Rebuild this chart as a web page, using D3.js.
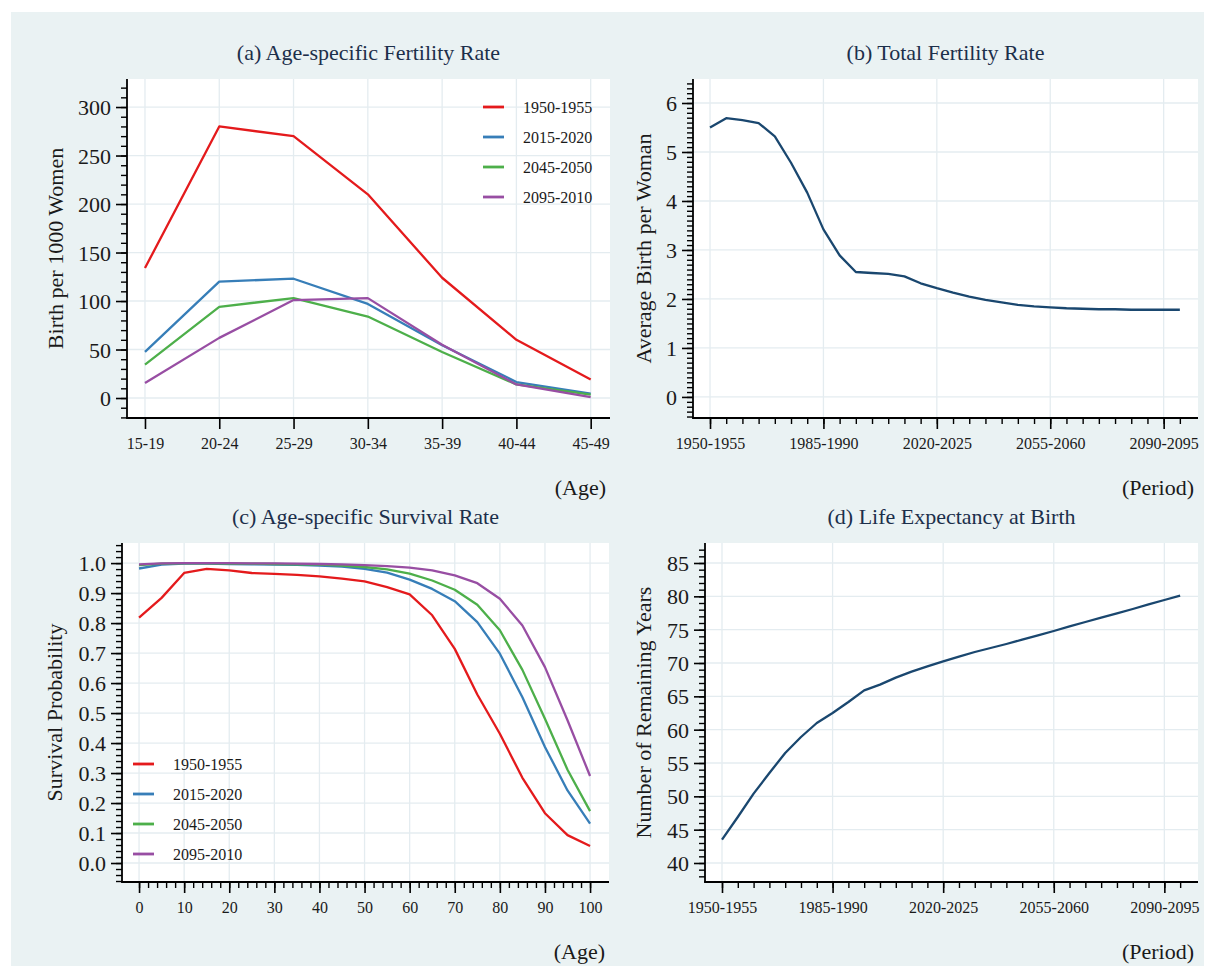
<!DOCTYPE html>
<html><head><meta charset="utf-8">
<script src="https://cdn.jsdelivr.net/npm/d3@7/dist/d3.min.js"></script>
<style>
html,body{margin:0;padding:0;background:#fff;}
svg text{font-family:"Liberation Serif","Times New Roman",serif;}
</style></head>
<body>
<svg id="chart" width="1214" height="974"></svg>
<script>
// ---------------- DATA ----------------
const ageGroups = ["15-19","20-24","25-29","30-34","35-39","40-44","45-49"];
const seriesNames = ["1950-1955","2015-2020","2045-2050","2095-2010"];
const seriesColors = ["#e41a1c","#377eb8","#4daf4a","#984ea3"];

const asfr1950 = [134, 280, 270, 210, 124, 60, 19];
const asfr2015 = [47.5, 120, 123, 97, 54.5, 16.5, 4.5];
const asfr2045 = [34.5, 94, 103, 84, 47.5, 14, 3.5];
const asfr2095 = [15.5, 62, 101, 103, 55, 14, 1];

const periods = ["1950-1955","1955-1960","1960-1965","1965-1970","1970-1975","1975-1980",
  "1980-1985","1985-1990","1990-1995","1995-2000","2000-2005","2005-2010","2010-2015",
  "2015-2020","2020-2025","2025-2030","2030-2035","2035-2040","2040-2045","2045-2050",
  "2050-2055","2055-2060","2060-2065","2065-2070","2070-2075","2075-2080","2080-2085",
  "2085-2090","2090-2095","2095-2100"];
const periodTickLabels = ["1950-1955","1985-1990","2020-2025","2055-2060","2090-2095"];

const tfr = [5.50,5.69,5.65,5.59,5.32,4.78,4.17,3.42,2.89,2.55,2.53,2.51,2.46,2.32,2.22,
  2.13,2.05,1.98,1.93,1.88,1.85,1.83,1.81,1.80,1.79,1.79,1.78,1.78,1.78,1.78];

const lifeExp = [43.5,46.9,50.4,53.5,56.5,58.9,61.0,62.5,64.15,65.9,66.75,67.8,68.7,69.5,
  70.25,70.95,71.65,72.25,72.85,73.5,74.15,74.8,75.5,76.15,76.8,77.45,78.1,78.8,79.45,80.1];

const survAges = [0,5,10,15,20,25,30,35,40,45,50,55,60,65,70,75,80,85,90,95,100];
const surv1950 = [0.818,0.884,0.967,0.981,0.976,0.967,0.964,0.961,0.956,0.948,0.939,0.920,
  0.896,0.826,0.714,0.562,0.431,0.284,0.166,0.093,0.057];
const surv2015 = [0.982,0.995,0.998,0.998,0.997,0.996,0.995,0.994,0.992,0.988,0.981,0.968,
  0.945,0.914,0.873,0.803,0.698,0.553,0.387,0.242,0.131];
const surv2045 = [0.993,0.998,0.999,0.999,0.998,0.998,0.997,0.996,0.995,0.992,0.987,0.979,
  0.965,0.942,0.911,0.861,0.776,0.644,0.481,0.311,0.173];
const surv2095 = [0.996,0.999,1.000,1.000,1.000,0.999,0.999,0.998,0.997,0.996,0.993,0.990,
  0.985,0.976,0.959,0.933,0.881,0.792,0.653,0.476,0.290];

// ---------------- DRAW ----------------
const svg = d3.select("#chart");
const GRID = "#e4ecf0", TITLE = "#1c2f4b", TXT = "#1a1a1a", NAVY = "#1a476f";

svg.append("rect").attr("x",0).attr("y",0).attr("width",1214).attr("height",974).attr("fill","#fff");
svg.append("rect").attr("x",11).attr("y",12).attr("width",1193).attr("height",954).attr("fill","#eaf2f3");

function panel(cfg){
  const g = svg.append("g");
  const x = d3.scaleLinear().domain(cfg.xdom).range([cfg.left, cfg.right]);
  const y = d3.scaleLinear().domain(cfg.ydom).range([cfg.bottom, cfg.top]);
  g.append("rect").attr("x",cfg.left).attr("y",cfg.top)
    .attr("width",cfg.right-cfg.left).attr("height",cfg.bottom-cfg.top).attr("fill","#fff");
  // grid
  g.selectAll(".gx").data(cfg.xMajor).join("line")
    .attr("x1",d=>x(d)).attr("x2",d=>x(d)).attr("y1",cfg.top).attr("y2",cfg.bottom)
    .attr("stroke",GRID).attr("stroke-width",1.3);
  g.selectAll(".gy").data(cfg.yMajor).join("line")
    .attr("y1",d=>y(d)).attr("y2",d=>y(d)).attr("x1",cfg.left).attr("x2",cfg.right)
    .attr("stroke",GRID).attr("stroke-width",1.3);
  // minor ticks
  const yAxisMinor = d3.axisLeft(y).tickValues(cfg.yMinor).tickSize(6).tickFormat("");
  const xAxisMinor = d3.axisBottom(x).tickValues(cfg.xMinor).tickSize(6).tickFormat("");
  const ym = g.append("g").attr("transform",`translate(${cfg.left},0)`).call(yAxisMinor);
  const xm = g.append("g").attr("transform",`translate(0,${cfg.bottom})`).call(xAxisMinor);
  [ym,xm].forEach(a=>{a.select(".domain").remove(); a.selectAll("line").attr("stroke","#000").attr("stroke-width",1.4);});
  // major axes
  const yAxis = d3.axisLeft(y).tickValues(cfg.yMajor).tickSize(11).tickPadding(5).tickFormat(cfg.yFmt);
  const xAxis = d3.axisBottom(x).tickValues(cfg.xMajor).tickSize(11).tickPadding(8).tickFormat(cfg.xFmt);
  const ya = g.append("g").attr("transform",`translate(${cfg.left},0)`).call(yAxis);
  const xa = g.append("g").attr("transform",`translate(0,${cfg.bottom})`).call(xAxis);
  [ya,xa].forEach(a=>{
    a.select(".domain").remove();
    a.selectAll("line").attr("stroke","#000").attr("stroke-width",1.6);
    a.selectAll("text").attr("fill",TXT);
  });
  ya.selectAll("text").attr("font-size",22).attr("dy","0.34em");
  xa.selectAll("text").attr("font-size",16).attr("dy","0.72em");
  // axis lines
  g.append("line").attr("x1",cfg.left).attr("x2",cfg.left).attr("y1",cfg.top).attr("y2",cfg.bottom+0.8)
    .attr("stroke","#000").attr("stroke-width",1.8);
  g.append("line").attr("x1",cfg.left-0.8).attr("x2",cfg.right).attr("y1",cfg.bottom).attr("y2",cfg.bottom)
    .attr("stroke","#000").attr("stroke-width",1.8);
  // titles
  g.append("text").attr("x",(cfg.left+cfg.right)/2).attr("y",cfg.top-19)
    .attr("text-anchor","middle").attr("font-size",22).attr("fill",TITLE).text(cfg.title);
  g.append("text").attr("transform",`translate(${cfg.ylabX},${(cfg.top+cfg.bottom)/2}) rotate(-90)`)
    .attr("text-anchor","middle").attr("dy","0.35em").attr("font-size",22).attr("fill",TXT).text(cfg.ylab);
  g.append("text").attr("x",cfg.right-4).attr("y",cfg.bottom+69).attr("dy","0.35em")
    .attr("text-anchor","end").attr("font-size",22).attr("fill",TXT).text(cfg.xlab);
  // lines
  const line = d3.line().x(d=>x(d[0])).y(d=>y(d[1]));
  cfg.series.forEach(s=>{
    g.append("path").datum(s.xs.map((v,i)=>[v,s.ys[i]]))
      .attr("d",line).attr("fill","none").attr("stroke",s.color)
      .attr("stroke-width",2.3).attr("stroke-linejoin","round");
  });
  // legend
  if(cfg.legend){
    const L = cfg.legend;
    cfg.series.forEach((s,i)=>{
      const yy = L.y + i*30;
      g.append("line").attr("x1",L.x).attr("x2",L.x+21).attr("y1",yy).attr("y2",yy)
        .attr("stroke",s.color).attr("stroke-width",2.8);
      g.append("text").attr("x",L.x+40).attr("y",yy).attr("dy","0.35em")
        .attr("font-size",16).attr("fill",TXT).text(s.name);
    });
  }
}

const idxAge = ageGroups.map((d,i)=>i);
const idxPer = periods.map((d,i)=>i);
const perMajor = periodTickLabels.map(l=>periods.indexOf(l));
const range = (a,b,s)=>d3.range(a,b+s/2,s);

panel({
  left:127,right:610,top:79,bottom:418,
  xdom:[-0.242,6.26], ydom:[-20.6,328.9],
  xMajor:idxAge, xMinor:[], xFmt:i=>ageGroups[i],
  yMajor:[0,50,100,150,200,250,300], yMinor:range(-20,320,10), yFmt:d3.format("d"),
  title:"(a) Age-specific Fertility Rate", ylab:"Birth per 1000 Women", ylabX:55, xlab:"(Age)",
  series:[asfr1950,asfr2015,asfr2045,asfr2095].map((ys,i)=>({xs:idxAge,ys,color:seriesColors[i],name:seriesNames[i]})),
  legend:{x:483,y:107}
});

panel({
  left:693,right:1198,top:79,bottom:418,
  xdom:[-1.05,30.12], ydom:[-0.43,6.49],
  xMajor:perMajor, xMinor:idxPer, xFmt:i=>periods[i],
  yMajor:[0,1,2,3,4,5,6], yMinor:range(-0.4,6.4,0.1), yFmt:d3.format("d"),
  title:"(b) Total Fertility Rate", ylab:"Average Birth per Woman", ylabX:643, xlab:"(Period)",
  series:[{xs:idxPer,ys:tfr,color:NAVY}]
});

panel({
  left:122,right:609,top:543,bottom:882,
  xdom:[-3.78,104.2], ydom:[-0.0633,1.067],
  xMajor:range(0,100,10), xMinor:range(0,100,2), xFmt:d3.format("d"),
  yMajor:range(0,1,0.1), yMinor:range(-0.06,1.06,0.02), yFmt:d3.format(".1f"),
  title:"(c) Age-specific Survival Rate", ylab:"Survival Probability", ylabX:54, xlab:"(Age)",
  series:[surv1950,surv2015,surv2045,surv2095].map((ys,i)=>({xs:survAges,ys,color:seriesColors[i],name:seriesNames[i]})),
  legend:{x:133,y:764}
});

panel({
  left:705,right:1198,top:543,bottom:882,
  xdom:[-1.076,30.13], ydom:[37.15,88],
  xMajor:perMajor, xMinor:idxPer, xFmt:i=>periods[i],
  yMajor:range(40,85,5), yMinor:range(38,87,1), yFmt:d3.format("d"),
  title:"(d) Life Expectancy at Birth", ylab:"Number of Remaining Years", ylabX:643, xlab:"(Period)",
  series:[{xs:idxPer,ys:lifeExp,color:NAVY}]
});
</script>
</body></html>
